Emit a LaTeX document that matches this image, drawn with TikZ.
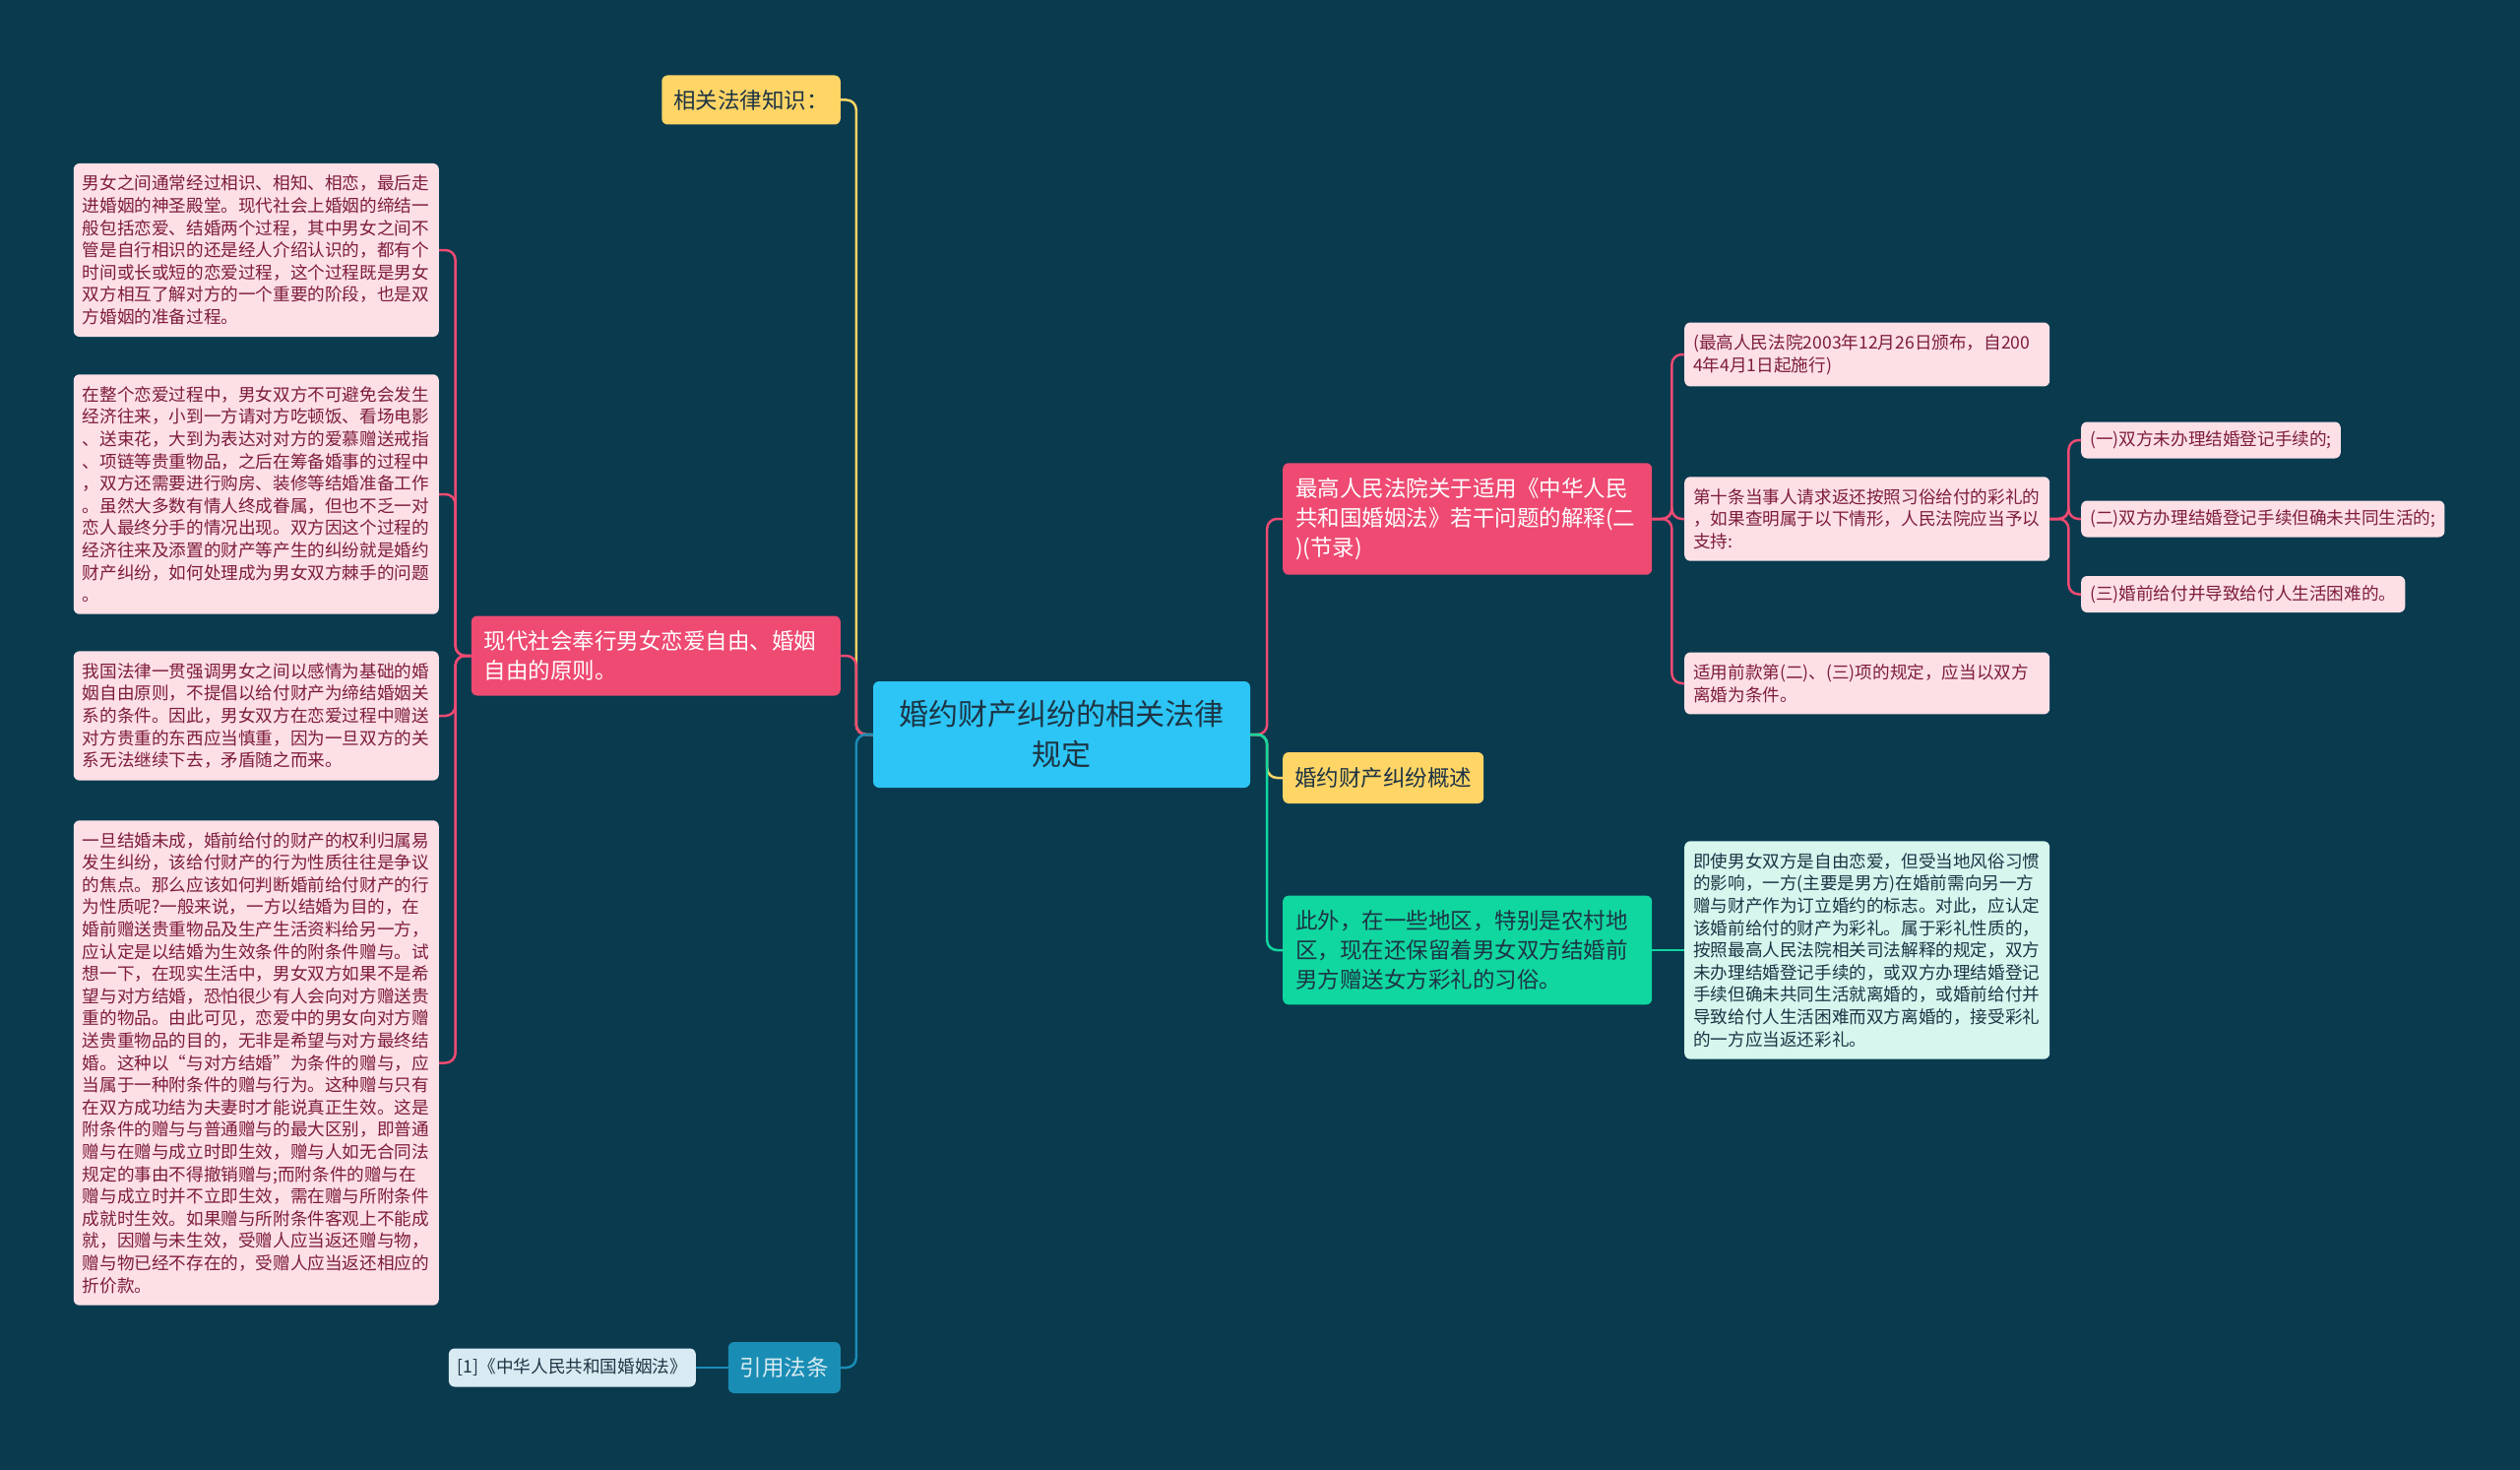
\documentclass[tikz,border=0pt]{standalone}
\usepackage{fontspec}
\setmainfont{Noto Sans CJK SC}
\usepackage{tikz}
\usepackage{xcolor}
\definecolor{mapbg}{HTML}{093A4E}
\definecolor{mapcyan}{HTML}{2CC5F5}
\definecolor{mappink}{HTML}{EE4A72}
\definecolor{mappinkl}{HTML}{FCE0E6}
\definecolor{mapwine}{HTML}{7E1C3D}
\definecolor{mapyellow}{HTML}{FFD566}
\definecolor{mapgreen}{HTML}{10D6A0}
\definecolor{mapgreenl}{HTML}{D6F6EE}
\definecolor{mapblue}{HTML}{1A8DB5}
\definecolor{mapbluel}{HTML}{D8EBF2}
\definecolor{mapink}{HTML}{1D3444}
\newcommand\rootsize{\fontsize{30}{41}\selectfont}
\newcommand\topicsize{\fontsize{22.5}{30}\selectfont}
\newcommand\leafsize{\fontsize{17.6}{22.6}\selectfont}

\begin{document}
\begin{tikzpicture}[x=1pt,y=-1pt,
  box/.style={rounded corners=6pt,align=left},
  topic/.style={box,text width=349pt,inner xsep=13pt,inner ysep=15pt,font=\topicsize},
  label/.style={box,inner xsep=12pt,inner ysep=0pt,minimum height=50pt,font=\topicsize},
  leaf/.style={box,fill=mappinkl,text=mapwine,text width=353pt,inner xsep=9pt,inner ysep=12pt,font=\leafsize},
  clause/.style={box,fill=mappinkl,text=mapwine,inner xsep=9pt,inner ysep=0pt,minimum height=37pt,font=\leafsize},
  link/.style={line width=2.5pt,rounded corners=10pt}]
  \fill[mapbg] (0,0) rectangle (2560,1493);
  \useasboundingbox (0,0) rectangle (2560,1493);
  % centre
  \node[box,fill=mapcyan,text=mapink,align=center,minimum width=383pt,minimum height=108pt,font=\rootsize] (ctr) at (1078.5,746) {婚约财产纠纷的相关法律\\规定};
  % left branch
  \node[label,fill=mapyellow,text=mapink,anchor=east] (know) at (854,101.5) {相关法律知识：};
  \node[topic,fill=mappink,text=white,anchor=east] (love) at (854,666) {现代社会奉行男女恋爱自由、婚姻\\自由的原则。};
  \node[label,fill=mapblue,text=mapbluel,anchor=east,minimum height=52pt] (cite) at (854,1389) {引用法条};
  \node[clause,fill=mapbluel,text=mapink,anchor=east,minimum height=39pt] (ref) at (707,1389) {[1]《中华人民共和国婚姻法》};
  \node[leaf,anchor=east] (t1) at (446,254) {男女之间通常经过相识、相知、相恋，最后走\\进婚姻的神圣殿堂。现代社会上婚姻的缔结一\\般包括恋爱、结婚两个过程，其中男女之间不\\管是自行相识的还是经人介绍认识的，都有个\\时间或长或短的恋爱过程，这个过程既是男女\\双方相互了解对方的一个重要的阶段，也是双\\方婚姻的准备过程。};
  \node[leaf,anchor=east] (t2) at (446,502) {在整个恋爱过程中，男女双方不可避免会发生\\经济往来，小到一方请对方吃顿饭、看场电影\\、送束花，大到为表达对对方的爱慕赠送戒指\\、项链等贵重物品，之后在筹备婚事的过程中\\，双方还需要进行购房、装修等结婚准备工作\\。虽然大多数有情人终成眷属，但也不乏一对\\恋人最终分手的情况出现。双方因这个过程的\\经济往来及添置的财产等产生的纠纷就是婚约\\财产纠纷，如何处理成为男女双方棘手的问题\\。};
  \node[leaf,anchor=east] (t3) at (446,727) {我国法律一贯强调男女之间以感情为基础的婚\\姻自由原则，不提倡以给付财产为缔结婚姻关\\系的条件。因此，男女双方在恋爱过程中赠送\\对方贵重的东西应当慎重，因为一旦双方的关\\系无法继续下去，矛盾随之而来。};
  \node[leaf,anchor=east] (t4) at (446,1079.5) {一旦结婚未成，婚前给付的财产的权利归属易\\发生纠纷，该给付财产的行为性质往往是争议\\的焦点。那么应该如何判断婚前给付财产的行\\为性质呢?一般来说，一方以结婚为目的，在\\婚前赠送贵重物品及生产生活资料给另一方，\\应认定是以结婚为生效条件的附条件赠与。试\\想一下，在现实生活中，男女双方如果不是希\\望与对方结婚，恐怕很少有人会向对方赠送贵\\重的物品。由此可见，恋爱中的男女向对方赠\\送贵重物品的目的，无非是希望与对方最终结\\婚。这种以“与对方结婚”为条件的赠与，应\\当属于一种附条件的赠与行为。这种赠与只有\\在双方成功结为夫妻时才能说真正生效。这是\\附条件的赠与与普通赠与的最大区别，即普通\\赠与在赠与成立时即生效，赠与人如无合同法\\规定的事由不得撤销赠与;而附条件的赠与在\\赠与成立时并不立即生效，需在赠与所附条件\\成就时生效。如果赠与所附条件客观上不能成\\就，因赠与未生效，受赠人应当返还赠与物，\\赠与物已经不存在的，受赠人应当返还相应的\\折价款。};
  % right branch
  \node[topic,fill=mappink,text=white,anchor=west] (interp) at (1303,527) {最高人民法院关于适用《中华人民\\共和国婚姻法》若干问题的解释(二\\)(节录)};
  \node[label,fill=mapyellow,text=mapink,anchor=west,minimum height=52pt] (sum) at (1303,790) {婚约财产纠纷概述};
  \node[topic,fill=mapgreen,text=mapink,anchor=west] (custom) at (1303,965) {此外，在一些地区，特别是农村地\\区，现在还保留着男女双方结婚前\\男方赠送女方彩礼的习俗。};
  \node[leaf,anchor=west] (issued) at (1711,360) {(最高人民法院2003年12月26日颁布，自200\\4年4月1日起施行)};
  \node[leaf,anchor=west] (art10) at (1711,527) {第十条当事人请求返还按照习俗给付的彩礼的\\，如果查明属于以下情形，人民法院应当予以\\支持:};
  \node[leaf,anchor=west] (apply) at (1711,694) {适用前款第(二)、(三)项的规定，应当以双方\\离婚为条件。};
  \node[clause,anchor=west] (c1) at (2114,447) {(一)双方未办理结婚登记手续的;};
  \node[clause,anchor=west] (c2) at (2114,527) {(二)双方办理结婚登记手续但确未共同生活的;};
  \node[clause,anchor=west] (c3) at (2114,603.5) {(三)婚前给付并导致给付人生活困难的。};
  \node[leaf,fill=mapgreenl,text=mapink,anchor=west] (gift) at (1711,965) {即使男女双方是自由恋爱，但受当地风俗习惯\\的影响，一方(主要是男方)在婚前需向另一方\\赠与财产作为订立婚约的标志。对此，应认定\\该婚前给付的财产为彩礼。属于彩礼性质的，\\按照最高人民法院相关司法解释的规定，双方\\未办理结婚登记手续的，或双方办理结婚登记\\手续但确未共同生活就离婚的，或婚前给付并\\导致给付人生活困难而双方离婚的，接受彩礼\\的一方应当返还彩礼。};
  % links
  \draw[link,mapyellow] (ctr.west) -- ++(-17,0) |- (know.east);
  \draw[link,mappink] (ctr.west) -- ++(-17,0) |- (love.east);
  \draw[link,mapblue] (ctr.west) -- ++(-17,0) |- (cite.east);
  \draw[link,mapblue] (cite.west) -- (ref.east);
  \foreach \t in {t1,t2,t3,t4}
    \draw[link,mappink] (love.west) -- ++(-16,0) |- (\t.east);
  \draw[link,mappink] (ctr.east) -- ++(17,0) |- (interp.west);
  \draw[link,mapyellow] (ctr.east) -- ++(17,0) |- (sum.west);
  \draw[link,mapgreen] (ctr.east) -- ++(17,0) |- (custom.west);
  \foreach \t in {issued,art10,apply}
    \draw[link,mappink] (interp.east) -- ++(20,0) |- (\t.west);
  \foreach \t in {c1,c2,c3}
    \draw[link,mappink] (art10.east) -- ++(19,0) |- (\t.west);
  \draw[link,mapgreen] (custom.east) -- (gift.west);
\end{tikzpicture}
\end{document}
